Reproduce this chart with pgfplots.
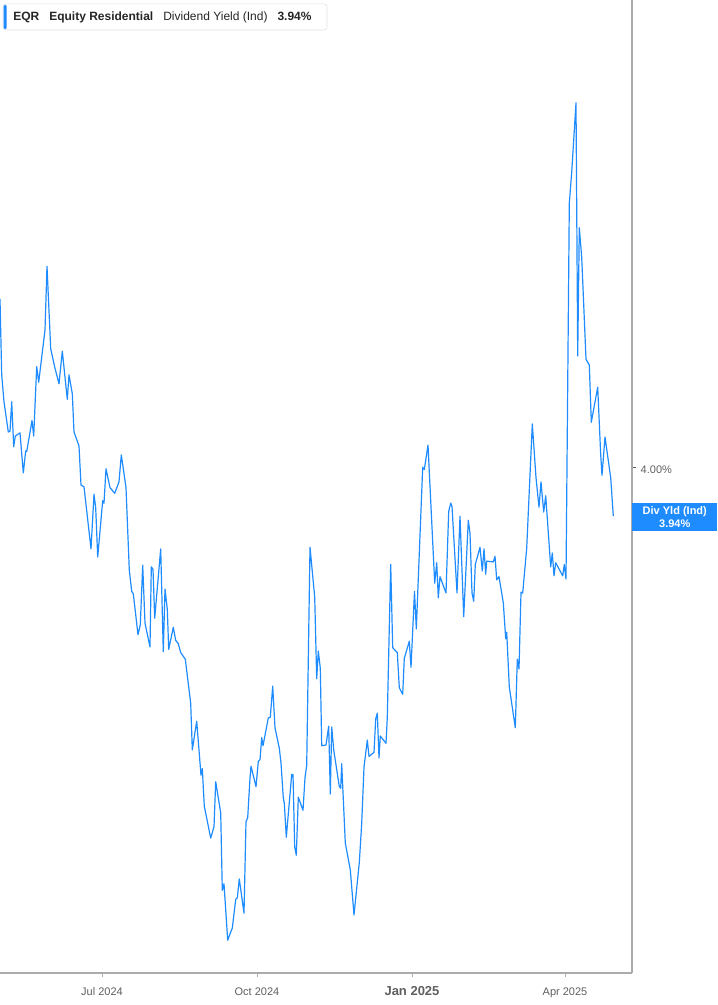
\documentclass[border=0pt]{standalone}
\usepackage{fontspec}
\setmainfont{Liberation Sans}
\usepackage{pgfplots}
\pgfplotsset{compat=1.18}
\usepackage{pgfplotstable}
\definecolor{eqrblue}{HTML}{1E8CFF}
\definecolor{axgray}{HTML}{ABABAB}
\definecolor{lblgray}{HTML}{5F5F5F}

% x = horizontal position (Jul 2024 at 102, Oct 2024 at 257, Jan 2025 at 412, Apr 2025 at 565)
% y = dividend yield, %
\pgfplotstableread{
x y
0 4.207
1.7 4.114
4 4.081
8.3 4.044
10 4.045
11.7 4.081
13.7 4.026
15.3 4.039
20 4.043
23.3 3.994
25.7 4.021
26.7 4.020
32 4.058
33.7 4.039
36.7 4.124
38.7 4.105
45 4.169
47 4.247
50.7 4.146
55 4.122
59 4.103
62.3 4.143
67.3 4.084
69 4.114
72.3 4.091
74 4.044
79 4.027
81 3.979
84 3.977
91 3.901
94 3.968
95.7 3.951
97.7 3.891
102.7 3.960
104 3.957
106 3.999
110 3.976
114.7 3.969
119 3.983
121.3 4.016
126 3.976
129.3 3.875
131.7 3.849
133.3 3.846
138 3.796
140.3 3.808
142.7 3.881
145 3.810
150 3.781
151.3 3.879
153 3.876
154.7 3.816
160.7 3.901
163.3 3.775
165 3.852
167.3 3.827
168.7 3.778
173.3 3.805
175.7 3.789
178.3 3.785
180.7 3.774
185.3 3.766
190.7 3.712
192.3 3.655
196.7 3.690
201 3.624
202.3 3.632
204.3 3.586
210.7 3.547
214 3.561
215.7 3.616
220.7 3.578
222.3 3.483
224 3.491
227.7 3.422
232.3 3.437
235.7 3.472
237.3 3.474
239.3 3.497
244 3.455
246 3.567
247.7 3.572
250 3.621
251 3.635
256 3.610
258.3 3.641
260 3.643
261.7 3.670
263 3.660
268.3 3.694
270.3 3.695
272.7 3.733
275 3.682
279.3 3.657
281 3.639
283.3 3.596
284.3 3.590
286.3 3.548
291.7 3.625
293 3.625
294.7 3.536
296.3 3.526
298.3 3.597
303 3.581
305 3.621
306.7 3.636
310 3.903
314.7 3.842
316.7 3.742
318.3 3.776
320.3 3.755
321.7 3.660
326 3.661
328.7 3.684
330.3 3.601
331.7 3.683
333.7 3.655
339.3 3.610
340.7 3.608
341.7 3.638
345.3 3.541
350.3 3.508
354 3.453
359.3 3.517
361.7 3.565
364 3.634
367.3 3.667
369 3.647
374 3.652
375.7 3.693
377.3 3.700
379 3.645
380.3 3.672
386 3.663
387.3 3.695
390.7 3.882
392.7 3.780
397.3 3.774
399.3 3.731
402.7 3.723
404.3 3.767
409.3 3.788
411 3.756
414.5 3.849
416.3 3.803
422.7 4.001
424.3 3.998
428 4.028
434.7 3.859
436.7 3.884
438.3 3.841
440 3.867
446 3.847
448.7 3.947
450.7 3.957
452 3.953
457 3.847
460 3.941
463.7 3.818
468.3 3.936
470 3.920
472 3.847
473.7 3.837
475.3 3.882
480 3.903
482.3 3.874
484 3.901
485.7 3.870
486.7 3.886
493.3 3.885
495 3.892
496.7 3.863
499 3.867
503.3 3.835
505.7 3.791
506.7 3.799
509.3 3.732
515.3 3.682
517.3 3.766
519 3.754
521 3.848
522.7 3.847
526.7 3.902
532.3 4.054
536 3.988
539 3.952
541 3.983
543.7 3.946
545.7 3.966
550.7 3.879
552.3 3.896
554 3.868
555.7 3.884
562.7 3.868
564.3 3.882
566 3.864
569.3 4.324
571.7 4.362
576 4.447
577.7 4.137
579.3 4.294
581.7 4.258
586 4.133
589.3 4.126
591.3 4.056
597.7 4.099
600.7 4.016
602 3.991
605 4.038
610.7 3.988
613.3 3.941
}\yielddata

\begin{document}
\begin{tikzpicture}
\useasboundingbox (0,-24pt) rectangle (537.75pt,729.75pt);
\begin{axis}[
    at={(0,0)}, anchor=south west,
    scale only axis,
    width=474pt, height=729.75pt,
    xmin=0, xmax=632,
    ymin=3.3819, ymax=4.5728,
    axis x line*=bottom,
    axis y line*=right,
    every outer x axis line/.append style={-},
    every outer y axis line/.append style={-},
    axis line style={axgray, line width=0.9pt, -},
    xtick={102,257,412,565},
    xticklabels={Jul 2024, Oct 2024, {\fontsize{9.75}{11}\selectfont\bfseries Jan 2025}, Apr 2025},
    ytick={4},
    yticklabels={4.00\%},
    tick align=outside,
    major tick length=3pt,
    xtick style={axgray, line width=0.75pt},
    ytick style={lblgray, line width=0.75pt},
    ticklabel style={font=\fontsize{8.25}{10}\selectfont, text=lblgray},
    xticklabel style={anchor=base, yshift=-14pt},
    yticklabel style={yshift=-1pt},
    clip=false,
]
\addplot[color=eqrblue, line width=0.9pt, mark=none, line join=round] table[x=x, y=y] {\yielddata};

% current value tag on the right axis
\node[fill=eqrblue, text=white, font=\fontsize{8.25}{9.5}\selectfont\bfseries,
      anchor=west, minimum width=63.75pt, minimum height=21pt, inner sep=0pt,
      align=center] at (axis cs:632,3.94) {Div Yld (Ind)\\3.94\%};

% legend box
\draw[draw=black!12, fill=white, rounded corners=2pt]
    ([xshift=2.25pt,yshift=-3pt]rel axis cs:0,1) rectangle
    ([xshift=245.25pt,yshift=-22.5pt]rel axis cs:0,1);
\fill[eqrblue, rounded corners=1pt]
    ([xshift=2.8pt,yshift=-3.6pt]rel axis cs:0,1) rectangle
    ([xshift=5pt,yshift=-21.9pt]rel axis cs:0,1);
\node[anchor=west, inner sep=0pt, font=\fontsize{9}{11}\selectfont, text=black!85]
    at ([xshift=9.75pt,yshift=-12.75pt]rel axis cs:0,1)
    {\textbf{EQR}\hspace{7.5pt}\textbf{Equity Residential}\hspace{7.5pt}Dividend Yield (Ind)\hspace{7.5pt}\textbf{3.94\%}};
\end{axis}
\end{tikzpicture}
\end{document}
